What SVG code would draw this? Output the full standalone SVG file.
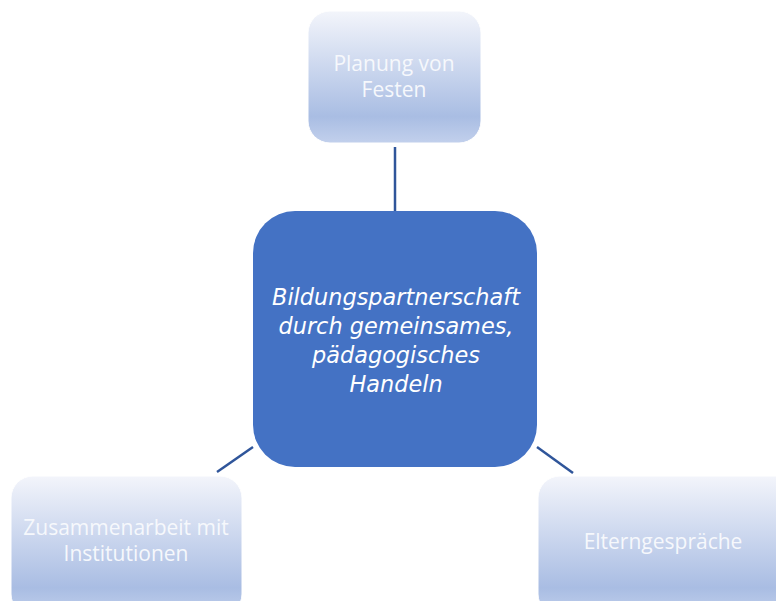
<svg xmlns="http://www.w3.org/2000/svg" width="776" height="601" viewBox="0 0 776 601">
<style>
.sat{stroke:#ffffff;stroke-width:1;fill:url(#g)}
.lbl{font-family:"Open Sans","Liberation Sans",sans-serif;font-size:21px;fill:#f6f8fc;text-anchor:middle}
.ctr{font-family:"DejaVu Sans",sans-serif;font-style:italic;font-size:22.4px;fill:#ffffff;text-anchor:middle}
.con{stroke:#2f559a;stroke-width:2.5;fill:none}
</style>
<defs>
<linearGradient id="g" x1="0" y1="0" x2="0" y2="1">
<stop offset="0" stop-color="#f3f5fb"/>
<stop offset="0.8" stop-color="#a9bde3"/>
<stop offset="1" stop-color="#c2d0ec"/>
</linearGradient>
</defs>
<rect width="776" height="601" fill="#ffffff"/>
<g id="connectors">
<line class="con" x1="395" y1="147" x2="395" y2="211"/>
<line class="con" x1="217" y1="472" x2="253" y2="447"/>
<line class="con" x1="537" y1="447" x2="573" y2="473"/>
</g>
<g id="center">
<rect x="253" y="211" width="284" height="256" rx="42" fill="#4472c4"/>
<text class="ctr" x="396" y="305">Bildungspartnerschaft</text>
<text class="ctr" x="396" y="334">durch gemeinsames,</text>
<text class="ctr" x="396" y="363">pädagogisches</text>
<text class="ctr" x="396" y="392">Handeln</text>
</g>
<g id="top">
<rect class="sat" x="308" y="11" width="173" height="132" rx="22"/>
<text class="lbl" x="394" y="71">Planung von</text>
<text class="lbl" x="394" y="97">Festen</text>
</g>
<g id="left">
<rect class="sat" x="11" y="476" width="231" height="140" rx="22"/>
<text class="lbl" x="126" y="535">Zusammenarbeit mit</text>
<text class="lbl" x="126" y="561">Institutionen</text>
</g>
<g id="right">
<rect class="sat" x="538" y="476" width="260" height="140" rx="22"/>
<text class="lbl" x="663" y="549">Elterngespräche</text>
</g>
</svg>
